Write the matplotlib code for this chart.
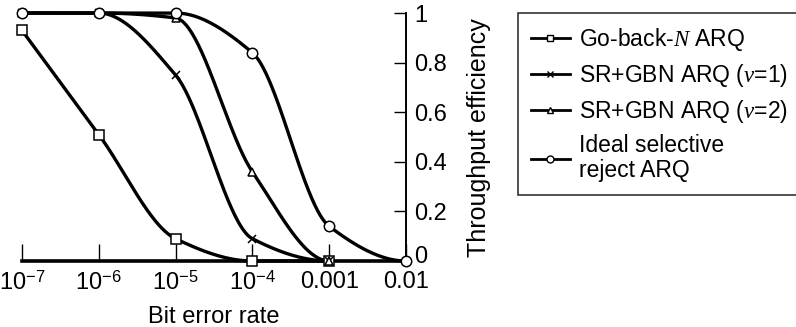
import numpy as np
import matplotlib
matplotlib.use("Agg")
import matplotlib.pyplot as plt
import matplotlib.transforms as mtransforms

plt.rcParams['font.family'] = ['Liberation Sans', 'DejaVu Sans']
plt.rcParams['mathtext.fontset'] = 'custom'
plt.rcParams['mathtext.rm'] = 'Liberation Sans'
plt.rcParams['mathtext.it'] = 'Liberation Serif:italic'

# ----------data----------
ber = [1e-7, 1e-6, 1e-5, 1e-4, 1e-3, 1e-2]
gbn = [0.93, 0.51, 0.09, 0.0, 0.0]
sr_v1 = [1.0, 1.0, 0.75, 0.09, 0.0]
sr_v2 = [1.0, 1.0, 0.98, 0.36, 0.0]
ideal = [1.0, 1.0, 1.0, 0.84, 0.14, 0.0]
labels = ["Go-back-$N$ ARQ", "SR+GBN ARQ ($v$=1)", "SR+GBN ARQ ($v$=2)",
          "Ideal selective\nreject ARQ"]
markers = ['s', 'x', '^', 'o']
x_ticklabels = ["$10^{-7}$", "$10^{-6}$", "$10^{-5}$", "$10^{-4}$", "0.001", "0.01"]
y_ticks = [0, 0.2, 0.4, 0.6, 0.8, 1]
y_ticklabels = ["0", "0.2", "0.4", "0.6", "0.8", "1"]


def smooth(xk, yk, xs):
    """monotone cubic through the points, only used to draw a smooth line"""
    xk = np.asarray(xk, float)
    yk = np.asarray(yk, float)
    h = np.diff(xk)
    d = np.diff(yk) / h
    n = len(xk)
    m = np.zeros(n)
    for i in range(1, n - 1):
        if d[i - 1] * d[i] > 0:
            w1 = 2 * h[i] + h[i - 1]
            w2 = h[i] + 2 * h[i - 1]
            m[i] = (w1 + w2) / (w1 / d[i - 1] + w2 / d[i])
    m[0] = d[0]
    m[-1] = 0.0
    idx = np.clip(np.searchsorted(xk, xs) - 1, 0, n - 2)
    t = (xs - xk[idx]) / h[idx]
    h00 = 2 * t**3 - 3 * t**2 + 1
    h10 = t**3 - 2 * t**2 + t
    h01 = -2 * t**3 + 3 * t**2
    h11 = t**3 - t**2
    return (h00 * yk[idx] + h10 * h[idx] * m[idx]
            + h01 * yk[idx + 1] + h11 * h[idx] * m[idx + 1])


fig = plt.figure(figsize=(7.96, 3.27), dpi=100)
ax = fig.add_axes([0.0276, 0.2018, 0.4824, 0.7584])

series = [gbn, sr_v1, sr_v2, ideal]
msizes = [7, 6, 6, 7.5]
handles = []
for ys, mk, ms, lab in zip(series, markers, msizes, labels):
    lx = np.log10(ber[:len(ys)])
    xs = np.linspace(lx[0], lx[-1], 300)
    ax.plot(10**xs, smooth(lx, ys, xs), color='black', lw=2.4,
            solid_capstyle='round', clip_on=False, zorder=3)
    ax.plot(ber[:len(ys)], ys, linestyle='none', marker=mk, ms=ms,
            mfc='white', mec='black', mew=1.1, clip_on=False, zorder=4)
    h, = ax.plot([], [], color='black', lw=2, marker=mk, ms=5,
                 mfc='white', mec='black', mew=1.0, label=lab)
    handles.append(h)

ax.set_xscale('log')
ax.set_xlim(1e-7, 1e-2)
ax.set_ylim(0, 1)
ax.minorticks_off()
ax.set_xticks(ber)
ax.set_xticklabels(x_ticklabels)
ax.yaxis.tick_right()
ax.set_yticks(y_ticks)
ax.set_yticklabels(y_ticklabels)

ax.spines['top'].set_visible(False)
ax.spines['left'].set_visible(False)
ax.spines['bottom'].set_linewidth(2.6)
ax.spines['right'].set_linewidth(1.4)
ax.tick_params(axis='x', direction='in', length=12, width=1, pad=7, labelsize=17)
ax.tick_params(axis='y', direction='in', length=9, width=1, pad=6, labelsize=17)

# lift the "0" label a little so it sits clear of "0.01"
zero_lbl = ax.get_yticklabels()[0]
zero_lbl.set_transform(zero_lbl.get_transform()
                       + mtransforms.ScaledTranslation(0, 5 / 72, fig.dpi_scale_trans))

ax.set_xlabel("Bit error rate", fontsize=17, labelpad=8)
fig.text(479 / 796, 1 - 138 / 327, "Throughput efficiency", rotation=90,
         ha='center', va='center', fontsize=18)

leg = fig.legend(handles=handles, loc='upper left', bbox_to_anchor=(0.651, 0.960),
                 borderaxespad=0, fontsize=16.5, frameon=True, fancybox=False,
                 edgecolor='black', handlelength=1.7, handletextpad=0.4,
                 labelspacing=0.4, borderpad=0.55)
leg.get_frame().set_linewidth(1.2)
for t in leg.get_texts():
    t.set_linespacing(1.1)

fig.savefig("out.png", dpi=100)
